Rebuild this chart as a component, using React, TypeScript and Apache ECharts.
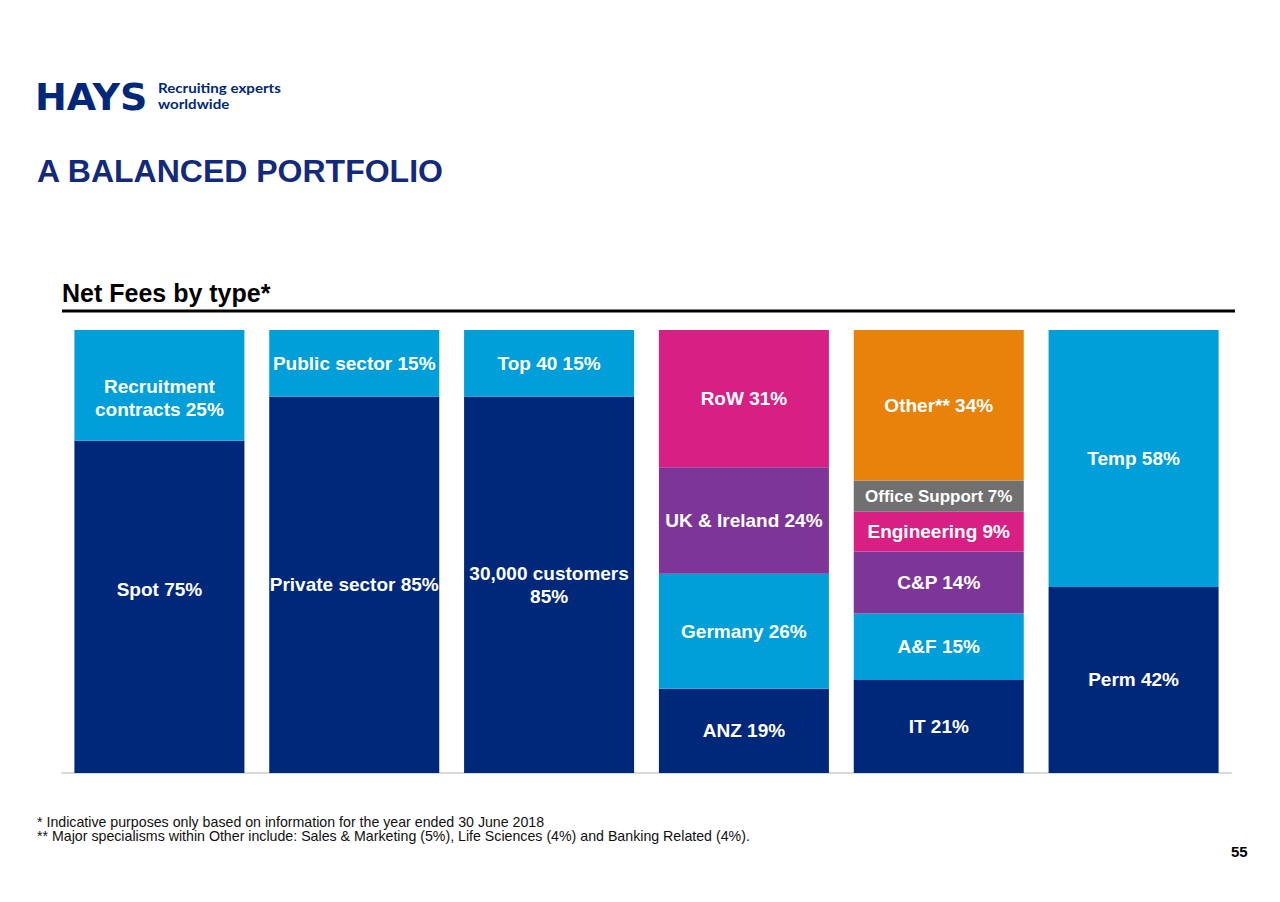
import React, { useEffect, useRef } from "react";
import * as echarts from "echarts";

const categories = ["Contract type", "Sector", "Client size", "Geography", "Specialism", "Perm / Temp"];

// Layers from bottom to top; null where a bar has no such layer
const layer0Names = ["Spot", "Private sector", "30,000 customers\n", "ANZ", "IT", "Perm"];
const layer0Values = [75, 85, 85, 19, 21, 42];
const layer1Names = ["Recruitment\ncontracts", "Public sector", "Top 40", "Germany", "A&F", "Temp"];
const layer1Values = [25, 15, 15, 26, 15, 58];
const layer2Names = ["", "", "", "UK & Ireland", "C&P", ""];
const layer2Values = [null, null, null, 24, 14, null];
const layer3Names = ["", "", "", "RoW", "Engineering", ""];
const layer3Values = [null, null, null, 31, 9, null];
const layer4Names = ["", "", "", "", "Office Support", ""];
const layer4Values = [null, null, null, null, 7, null];
const layer5Names = ["", "", "", "", "Other**", ""];
const layer5Values = [null, null, null, null, 34, null];

const footnote1 = "* Indicative purposes only based on information for the year ended 30 June 2018";
const footnote2 = "** Major specialisms within Other include: Sales & Marketing (5%), Life Sciences (4%) and Banking Related (4%).";

const NAVY = "#00287A";
const LIGHT = "#009FDA";
const PURPLE = "#7D3698";
const MAGENTA = "#D71F84";
const GRAY = "#707070";
const ORANGE = "#E8820A";

const layers = [
  { names: layer0Names, values: layer0Values, color: NAVY },
  { names: layer1Names, values: layer1Values, color: LIGHT },
  { names: layer2Names, values: layer2Values, color: PURPLE },
  { names: layer3Names, values: layer3Values, color: MAGENTA },
  { names: layer4Names, values: layer4Values, color: GRAY },
  { names: layer5Names, values: layer5Values, color: ORANGE },
];

const FONT = "'Liberation Sans', Arial, Helvetica, sans-serif";
const LOGO_FONT = "Lato, 'Open Sans', sans-serif";

const labelOverrides: Record<string, any> = {
  Spot: { offset: [0, -17] },
  "Recruitment\ncontracts": { offset: [0, 13] },
  "Office Support": { fontSize: 17 },
};

export default function App() {
  const ref = useRef<HTMLDivElement>(null);
  useEffect(() => {
    if (!ref.current) return;
    const chart = echarts.init(ref.current, null, { renderer: "svg" });
    const series = layers.map((layer, li) => ({
      type: "bar",
      stack: "total",
      barWidth: 170,
      itemStyle: { color: layer.color },
      label: {
        show: true,
        position: "inside",
        color: "#fff",
        fontWeight: "bold",
        fontSize: 19,
        fontFamily: FONT,
        lineHeight: 23,
        formatter: (p: any) => {
          const n = p.name as string;
          return n + (n.endsWith("\n") ? "" : " ") + p.value + "%";
        },
      },
      data: layer.values.map((v, i) =>
        v == null
          ? "-"
          : { value: v, name: layer.names[i], label: labelOverrides[layer.names[i]] || {} }
      ),
      z: 2 + li,
    }));
    chart.setOption({
      animation: false,
      grid: { left: 62, right: 49, top: 330, bottom: 129 },
      xAxis: {
        type: "category",
        data: categories,
        axisLine: { show: true, lineStyle: { color: "#d9d9d9", width: 2 } },
        axisTick: { show: false },
        axisLabel: { show: false },
      },
      yAxis: { type: "value", min: 0, max: 100, show: false, splitLine: { show: false } },
      series,
      graphic: [
        {
          type: "text",
          left: 35,
          top: 78,
          style: { text: "HAYS", fontFamily: "'DejaVu Sans', sans-serif", fontWeight: "bold", fontSize: 38, fill: NAVY },
        },
        {
          type: "text",
          x: 158,
          y: 81,
          scaleX: 1.12,
          style: { text: "Recruiting experts", fontFamily: LOGO_FONT, fontWeight: "bold", fontSize: 13.5, fill: NAVY },
        },
        {
          type: "text",
          x: 158,
          y: 97,
          scaleX: 1.12,
          style: { text: "worldwide", fontFamily: LOGO_FONT, fontWeight: "bold", fontSize: 13.5, fill: NAVY },
        },
        {
          type: "text",
          left: 37,
          top: 155,
          style: { text: "A BALANCED PORTFOLIO", fontFamily: FONT, fontWeight: "bold", fontSize: 32, fill: "#13297B" },
        },
        {
          type: "text",
          left: 62,
          top: 280,
          style: { text: "Net Fees by type*", fontFamily: FONT, fontWeight: "bold", fontSize: 25, fill: "#000" },
        },
        {
          type: "line",
          shape: { x1: 62, y1: 311, x2: 1235, y2: 311 },
          style: { stroke: "#000", lineWidth: 3 },
        },
        {
          type: "text",
          left: 37,
          top: 815,
          style: { text: footnote1, fontFamily: FONT, fontSize: 14.2, fill: "#111" },
        },
        {
          type: "text",
          left: 37,
          top: 829,
          style: { text: footnote2, fontFamily: FONT, fontSize: 14.2, fill: "#111" },
        },
        {
          type: "text",
          left: 1231,
          top: 844,
          style: { text: "55", fontFamily: FONT, fontWeight: "bold", fontSize: 15, fill: "#000" },
        },
      ],
    });
    return () => chart.dispose();
  }, []);
  return <div ref={ref} style={{ position: "absolute", left: 0, top: 0, width: 1280, height: 902 }} />;
}
